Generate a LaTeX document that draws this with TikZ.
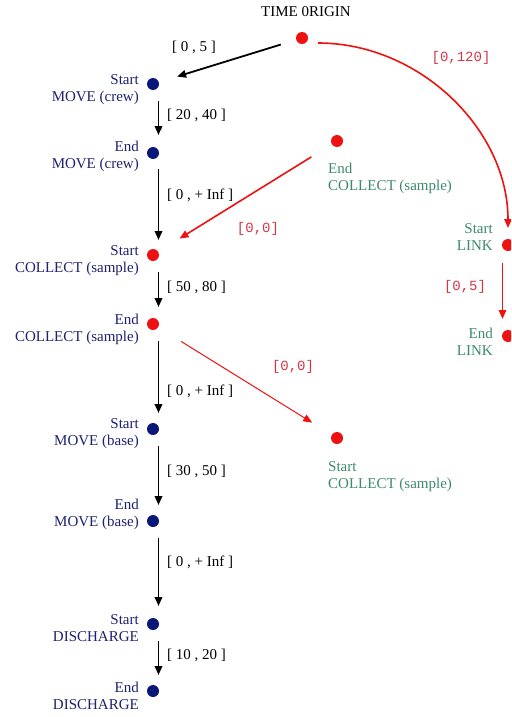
\documentclass[tikz,border=0pt]{standalone}
\usepackage{fontspec}
\setmainfont{Liberation Serif}
\newfontfamily\monof{Liberation Mono}
\usetikzlibrary{arrows.meta,calc}
\definecolor{navy}{HTML}{1E2070}
\definecolor{dotblue}{HTML}{0A1678}
\definecolor{dotred}{HTML}{EE1111}
\definecolor{teal}{HTML}{3C8A6C}
\definecolor{redlab}{HTML}{D03848}
\tikzset{
  bdot/.style={circle,fill=dotblue,inner sep=0pt,minimum size=12pt},
  rdot/.style={circle,fill=dotred,inner sep=0pt,minimum size=12pt},
  btxt/.style={text=navy,anchor=east,align=right,inner sep=0pt,font=\fontsize{15}{17}\selectfont},
  gtxt/.style={text=teal,inner sep=0pt,font=\fontsize{15}{17}\selectfont},
  gltxt/.style={gtxt,anchor=north west,align=left},
  grtxt/.style={gtxt,anchor=east,align=right},
  blab/.style={text=black,anchor=west,inner sep=0pt,font=\fontsize{15}{17}\selectfont},
  rlab/.style={text=redlab,inner sep=0pt,font=\monof\fontsize{14}{16}\selectfont},
  barr/.style={draw=black,line width=1.8pt,-{Triangle[length=9pt,width=7.5pt]}},
  rarr/.style={draw=dotred,line width=1.6pt,-{Triangle[length=9pt,width=7.5pt]}},
  rthin/.style={draw=dotred,line width=1pt,-{Triangle[length=9pt,width=7.5pt]}},
}
\begin{document}
\begin{tikzpicture}[x=1pt,y=-1pt]
\useasboundingbox (0,0) rectangle (511,717);
\clip (0,0) rectangle (511,717);
% title
\node[inner sep=0pt,font=\fontsize{15}{17}\selectfont] (title) at (306,12) {TIME 0RIGIN};
% dots
\node[rdot] (o) at (302,38) {};
\node[bdot] (smc) at (153,84) {};
\node[bdot] (emc) at (153,153) {};
\node[rdot] (sc) at (153,255) {};
\node[rdot] (ec) at (153,324) {};
\node[bdot] (smb) at (153,429) {};
\node[bdot] (emb) at (153,521) {};
\node[bdot] (sd) at (153,624) {};
\node[bdot] (ed) at (153,691) {};
\node[rdot] (ec2) at (337,141) {};
\node[rdot] (sl) at (508,245) {};
\node[rdot] (el) at (508,336) {};
\node[rdot] (sc2) at (337,438) {};
% left labels
\node[btxt] (lsmc) at (139,89.5) {Start\\MOVE (crew)};
\node[btxt] (lemc) at (139,156.5) {End\\MOVE (crew)};
\node[btxt] (lsc) at (139,261) {Start\\COLLECT (sample)};
\node[btxt] (lec) at (139,329) {End\\COLLECT (sample)};
\node[btxt] (lsmb) at (139,433.5) {Start\\MOVE (base)};
\node[btxt] (lemb) at (139,514.5) {End\\MOVE (base)};
\node[btxt] (lsd) at (139,628) {Start\\DISCHARGE};
\node[btxt] (led) at (139,696) {End\\DISCHARGE};
% right labels
\node[gltxt] (lec2) at (328,163) {End\\COLLECT (sample)};
\node[gltxt] (lsc2) at (328,461) {Start\\COLLECT (sample)};
\node[grtxt] (lsl) at (493,237) {Start\\LINK};
\node[grtxt] (lel) at (493,341.5) {End\\LINK};
% black arrows
\draw[barr,shorten <=16pt,shorten >=19pt] (o) -- (smc);
\node[blab] (l1) at (172,47) {[ 0 , 5 ]};
\draw[barr,shorten <=17pt,shorten >=18pt] ([xshift=5.5pt]smc.center) -- ([xshift=5.5pt]emc.center);
\node[blab] (l2) at (167,115) {[ 20 , 40 ]};
\draw[barr,shorten <=16pt,shorten >=15pt] ([xshift=5.5pt]emc.center) -- ([xshift=5.5pt]sc.center);
\node[blab] (l3) at (167,195) {[ 0 , + Inf ]};
\draw[barr,shorten <=17pt,shorten >=17pt] ([xshift=5.5pt]sc.center) -- ([xshift=5.5pt]ec.center);
\node[blab] (l4) at (167,287) {[ 50 , 80 ]};
\draw[barr,shorten <=17pt,shorten >=16pt] ([xshift=5.5pt]ec.center) -- ([xshift=5.5pt]smb.center);
\node[blab] (l5) at (167,391) {[ 0 , + Inf ]};
\draw[barr,shorten <=17pt,shorten >=16pt] ([xshift=5.5pt]smb.center) -- ([xshift=5.5pt]emb.center);
\node[blab] (l6) at (167,471) {[ 30 , 50 ]};
\draw[barr,shorten <=17pt,shorten >=18pt] ([xshift=5.5pt]emb.center) -- ([xshift=5.5pt]sd.center);
\node[blab] (l7) at (167,562) {[ 0 , + Inf ]};
\draw[barr,shorten <=17pt,shorten >=16pt] ([xshift=5.5pt]sd.center) -- ([xshift=5.5pt]ed.center);
\node[blab] (l8) at (167,655) {[ 10 , 20 ]};
% red arrows
\draw[rarr] ($(o)+(16,5)$) .. controls +(102,0) and +(0,-98) .. ($(sl)+(0,-17)$);
\node[rlab] (r1) at (461,58) {[0,120]};
\draw[rarr,shorten <=18pt,shorten >=17pt] ([xshift=-5.5pt]sl.center) -- ([xshift=-5.5pt]el.center);
\node[rlab] (r2) at (465,287) {[0,5]};
\draw[rarr,shorten <=24pt,shorten >=25pt] (ec2) -- (sc);
\node[rlab] (r3) at (258,229) {[0,0]};
\draw[rthin,shorten <=27pt,shorten >=23pt] (ec) -- (sc2);
\node[rlab] (r4) at (293,367) {[0,0]};
\end{tikzpicture}
\end{document}
